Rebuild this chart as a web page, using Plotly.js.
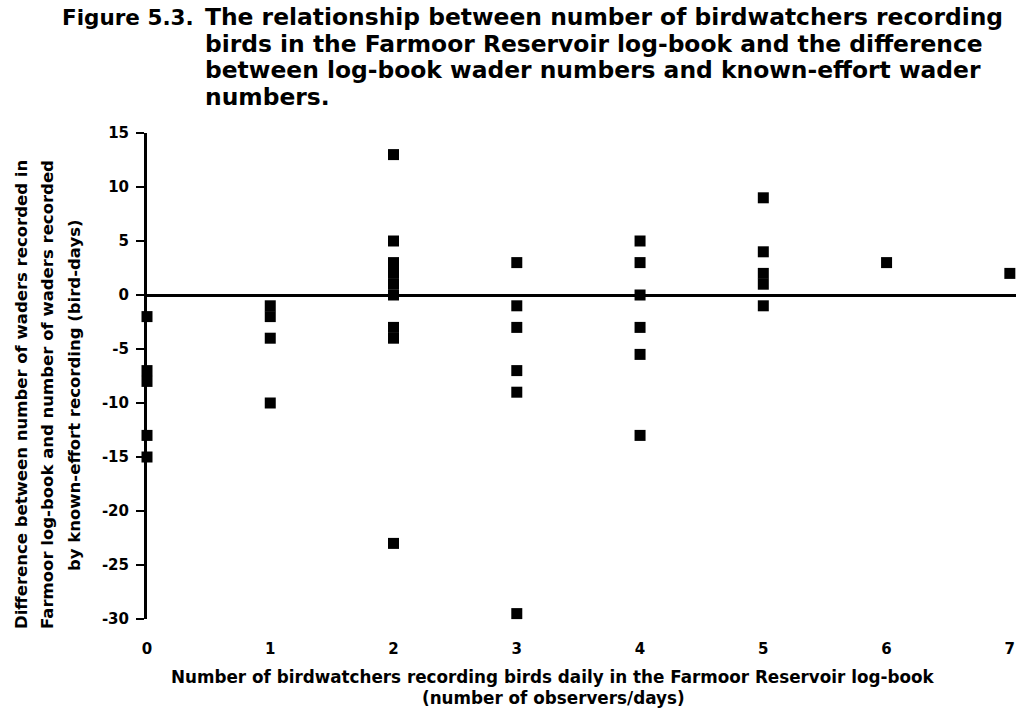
<!DOCTYPE html>
<html>
<head>
<meta charset="utf-8">
<script src="https://cdn.plot.ly/plotly-3.0.1.min.js"></script>
<style>html,body{margin:0;padding:0;background:#fff;}#chart{width:1019px;height:713px;}</style>
</head>
<body>
<div id="chart"></div>
<script>
// Number of birdwatchers (x) and log-book minus known-effort wader numbers (y)
const observers = [0,0,0,0,0, 1,1,1,1, 2,2,2,2,2,2,2,2,2, 3,3,3,3,3,3, 4,4,4,4,4,4, 5,5,5,5,5, 6, 7];
const difference = [-2,-7,-8,-13,-15, -1,-2,-4,-10, 13,5,3,2,1,0,-3,-4,-23, 3,-1,-3,-7,-9,-29.5, 5,3,0,-3,-5.5,-13, 9,4,2,1,-1, 3, 2];
const xTicks = [0,1,2,3,4,5,6,7];
const yTicks = [15,10,5,0,-5,-10,-15,-20,-25,-30];

const titleLead = 'Figure 5.3.';
const titleLines = [
  'The relationship between number of birdwatchers recording',
  'birds in the Farmoor Reservoir log-book and the difference',
  'between log-book wader numbers and known-effort wader',
  'numbers.'
];
const yTitleLines = [
  'Difference between number of waders recorded in',
  'Farmoor log-book and number of waders recorded',
  'by known-effort recording (bird-days)'
];
const xTitleLines = [
  'Number of birdwatchers recording birds daily in the Farmoor Reservoir log-book',
  '(number of observers/days)'
];

const FONT = 'DejaVu Sans, Liberation Sans, Arial, sans-serif';

const trace = {
  x: observers, y: difference, type: 'scatter', mode: 'markers',
  cliponaxis: false,
  marker: {symbol: 'square', size: 11, color: '#000'},
  hoverinfo: 'x+y'
};

const annotations = [];
function txt(text, x, y, xanchor, xshift, yshift, size, angle) {
  annotations.push({text: text, xref: 'paper', yref: 'paper', x: x, y: y,
    xanchor: xanchor, yanchor: 'middle', xshift: xshift, yshift: yshift,
    textangle: angle || 0, showarrow: false, align: 'left',
    font: {family: FONT, size: size, color: '#000', weight: 'bold'}});
}
// plot area: left edge 147px, top 133px, bottom 619px
txt(titleLead, 0, 1, 'left', -87, 116, 21.5);
const titleCenters = [17, 44, 70, 97];
titleLines.forEach((t, i) => txt(t, 0, 1, 'left', 56, 133 - titleCenters[i], 23.4));
const yTitleX = [21, 47, 74];
yTitleLines.forEach((t, i) => txt(t, 0, 0.5, 'center', yTitleX[i] - 147, -19, 16.5, -90));
const xTitleY = [677, 698];
xTitleLines.forEach((t, i) => txt(t, 0, 0, 'center', 406, 619 - xTitleY[i], 16.8));

const layout = {
  width: 1019, height: 713,
  margin: {l: 147, r: 3, t: 133, b: 94},
  paper_bgcolor: '#fff', plot_bgcolor: '#fff',
  showlegend: false,
  font: {family: FONT, color: '#000'},
  xaxis: {
    range: [0, 7.05], tickvals: xTicks, ticktext: xTicks.map(String),
    showgrid: false, zeroline: false, showline: false,
    ticks: 'outside', ticklen: 16, tickcolor: 'rgba(0,0,0,0)',
    tickfont: {family: FONT, size: 15, color: '#000', weight: 'bold'}
  },
  yaxis: {
    range: [-30, 15], tickvals: yTicks, ticktext: yTicks.map(String),
    showgrid: false, showline: true, linecolor: '#000', linewidth: 3,
    zeroline: true, zerolinecolor: '#000', zerolinewidth: 3,
    ticks: 'outside', ticklen: 8, tickwidth: 2, tickcolor: '#000',
    ticklabelstandoff: 4,
    tickfont: {family: FONT, size: 15, color: '#000', weight: 'bold'}
  },
  annotations: annotations
};

Plotly.newPlot('chart', [trace], layout, {displayModeBar: false, staticPlot: true});
</script>
</body>
</html>
